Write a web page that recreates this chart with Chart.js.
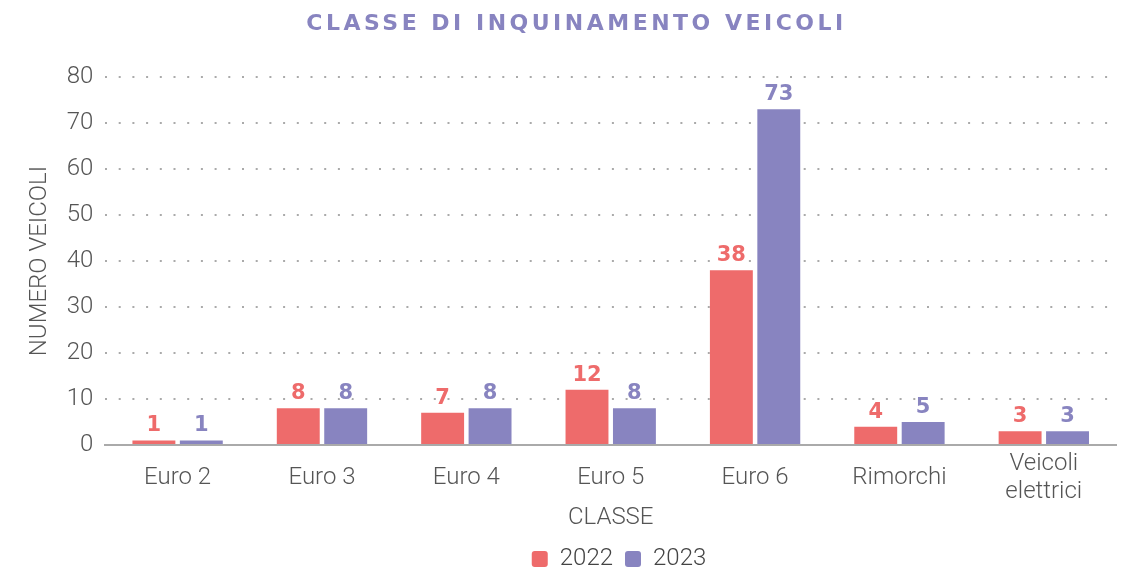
<!DOCTYPE html>
<html>
<head>
<meta charset="utf-8">
<script src="https://cdn.jsdelivr.net/npm/chart.js@4"></script>
<style>
  html, body { margin: 0; padding: 0; background: #fff; }
  #wrap { position: relative; width: 1125px; height: 569px; }
  #titolo {
    position: absolute; left: 28px; right: 0; top: 10px;
    text-align: center; font-family: "DejaVu Sans", sans-serif;
    font-weight: 900; font-size: 22px; letter-spacing: 3.5px;
    color: #8884c0; margin: 0;
  }
</style>
</head>
<body>
<div id="wrap">
  <h1 id="titolo">CLASSE DI INQUINAMENTO VEICOLI</h1>
  <canvas id="grafico" width="1125" height="569"></canvas>
</div>
<script>
// categorie e valori
const categorie = ['Euro 2', 'Euro 3', 'Euro 4', 'Euro 5', 'Euro 6', 'Rimorchi', ['Veicoli', 'elettrici']];
const valori2022 = [1, 8, 7, 12, 38, 4, 3];
const valori2023 = [1, 8, 8, 8, 73, 5, 3];
const tickY = [0, 10, 20, 30, 40, 50, 60, 70, 80];

const ROSSO = '#ee6b6b';
const VIOLA = '#8884c0';

// etichette sopra le barre
const etichette = {
    id: 'etichette',
    afterDatasetsDraw(chart) {
        const ctx = chart.ctx;
        ctx.save();
        ctx.font = 'bold 21px "DejaVu Sans", sans-serif';
        ctx.textAlign = 'center';
        ctx.textBaseline = 'alphabetic';
        ctx.lineWidth = 3;
        ctx.strokeStyle = '#fff';
        chart.data.datasets.forEach((ds, i) => {
            chart.getDatasetMeta(i).data.forEach((bar, j) => {
                const testo = String(ds.data[j]);
                ctx.strokeText(testo, bar.x, bar.y - 9);
                ctx.fillStyle = ds.backgroundColor;
                ctx.fillText(testo, bar.x, bar.y - 9);
            });
        });
        ctx.restore();
    }
};

// sposta la legenda sotto il centro dell'area del grafico
const legendaCentrata = {
    id: 'legendaCentrata',
    afterLayout(chart) {
        const d = 50;
        chart.legend.left += d;
        chart.legend.right += d;
    }
};

const fontBase = { family: 'Roboto', weight: 300 };

new Chart(document.getElementById('grafico'), {
    type: 'bar',
    data: {
        labels: categorie,
        datasets: [
            { label: '2022', data: valori2022, backgroundColor: ROSSO },
            { label: '2023', data: valori2023, backgroundColor: VIOLA }
        ]
    },
    options: {
        responsive: false,
        animation: false,
        categoryPercentage: 0.657,
        barPercentage: 0.905,
        layout: { padding: { top: 77, right: 9, left: 22, bottom: -12 } },
        plugins: {
            legend: {
                position: 'bottom',
                labels: {
                    boxWidth: 16, boxHeight: 16, useBorderRadius: true, borderRadius: 3,
                    padding: 12,
                    color: '#444',
                    font: { ...fontBase, size: 24 }
                }
            },
            tooltip: { enabled: false }
        },
        scales: {
            x: {
                grid: { display: false, drawTicks: false },
                border: { display: true, color: '#aaa', width: 2 },
                ticks: { color: '#555', font: { ...fontBase, size: 24, lineHeight: 1.17 }, padding: 19, crossAlign: 'center' },
                title: { display: true, text: 'CLASSE', color: '#555', font: { ...fontBase, size: 24 }, padding: { top: -36, bottom: 3 } }
            },
            y: {
                min: 0, max: 80,
                afterBuildTicks(scale) { scale.ticks = tickY.map(v => ({ value: v })); },
                grid: { color: '#aaa', lineWidth: 2, drawTicks: false },
                border: { display: false, dash: [2, 11.7] },
                ticks: { color: '#555', font: { ...fontBase, size: 24 }, padding: 12 },
                title: { display: true, text: 'NUMERO VEICOLI', color: '#555', font: { ...fontBase, size: 24 }, padding: { bottom: 0 } }
            }
        }
    },
    plugins: [etichette, legendaCentrata]
});
</script>
</body>
</html>
